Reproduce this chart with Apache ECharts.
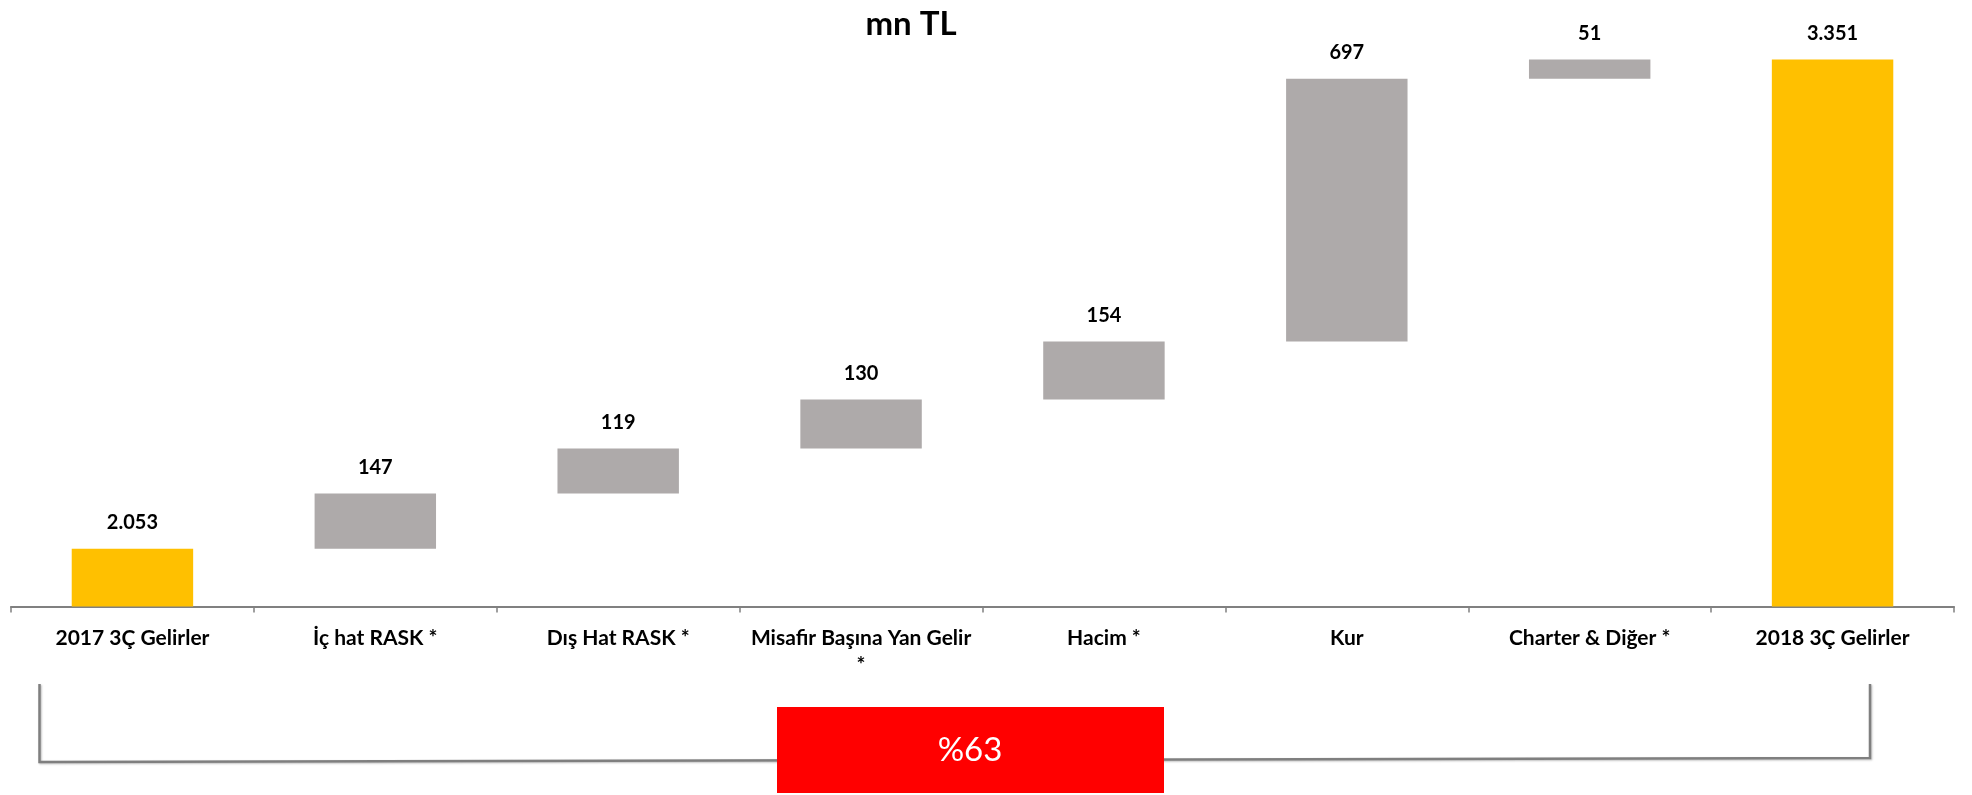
<!DOCTYPE html>
<html>
<head>
<meta charset="utf-8">
<script src="https://cdn.jsdelivr.net/npm/echarts@6/dist/echarts.min.js"></script>
<style>
html,body{margin:0;padding:0;background:#fff;}
#c{width:1972px;height:795px;}
</style>
</head>
<body>
<div id="c"></div>
<script>
// ---- data ----
const categories = ['2017 3Ç Gelirler', 'İç hat RASK *', 'Dış Hat RASK *', 'Misafir Başına Yan Gelir *', 'Hacim *', 'Kur', 'Charter & Diğer *', '2018 3Ç Gelirler'];
const startTotal = 2053;
const changes = [147, 119, 130, 154, 697, 51];
const endTotal = 3351;
const growthLabel = '%63';
const titleText = 'mn TL';

// ---- build waterfall ----
const values = [startTotal].concat(changes).concat([endTotal]);
const bases = [0];
let run = startTotal;
changes.forEach(v => { bases.push(run); run += v; });
bases.push(0);

const YELLOW = '#FFC000', GRAY = '#AEAAAA';
const fmt = v => String(v).replace(/\B(?=(\d{3})+(?!\d))/g, '.');

const chart = echarts.init(document.getElementById('c'), null, {renderer: 'canvas'});
chart.setOption({
  animation: false,
  title: {
    text: titleText, left: 906, top: 3, textAlign: 'center',
    textStyle: {fontFamily: 'Lato', fontWeight: 'bold', fontSize: 33, color: '#000'}
  },
  grid: {left: 11, right: 18, top: 41, bottom: 188.5, containLabel: false},
  xAxis: {
    type: 'category', data: categories,
    axisLine: {lineStyle: {color: '#808080', width: 2}},
    axisTick: {show: true, length: 6, lineStyle: {color: '#808080', width: 1.5}},
    axisLabel: {
      interval: 0, margin: 18, color: '#000', fontFamily: 'Lato', fontWeight: 'bold',
      fontSize: 21, lineHeight: 27,
      // long labels wrap their trailing asterisk to a second line, as in the source
      formatter: v => v.length > 20 ? v.replace(/ \*$/, '\n*') : v
    }
  },
  yAxis: {type: 'value', min: 1900, max: 3400, show: false, splitLine: {show: false}},
  series: [
    {
      type: 'bar', stack: 'w', data: bases, barWidth: '50%',
      itemStyle: {color: 'transparent'}, silent: true
    },
    {
      type: 'bar', stack: 'w', barWidth: '50%',
      data: values.map((v, i) => ({
        value: v,
        itemStyle: {color: (i === 0 || i === values.length - 1) ? YELLOW : GRAY}
      })),
      label: {
        show: true, position: 'top', distance: 16, color: '#000',
        fontFamily: 'Lato', fontWeight: 'bold', fontSize: 20,
        formatter: p => fmt(p.value)
      }
    }
  ],
  graphic: [
    {
      type: 'polyline', z: 10,
      shape: {points: [[39.5, 684], [39.5, 762], [1870, 758], [1870, 684]]},
      style: {stroke: '#7F7F7F', lineWidth: 2.5, fill: null,
              shadowColor: 'rgba(0,0,0,0.25)', shadowBlur: 2, shadowOffsetX: 1, shadowOffsetY: 1}
    },
    {
      type: 'rect', z: 11,
      shape: {x: 777, y: 707, width: 387, height: 86},
      style: {fill: '#FF0000'}
    },
    {
      type: 'text', z: 12, x: 970, y: 750,
      style: {text: growthLabel, fill: '#fff', fontFamily: 'Lato', fontSize: 33,
              align: 'center', verticalAlign: 'middle'}
    }
  ]
});
</script>
</body>
</html>
